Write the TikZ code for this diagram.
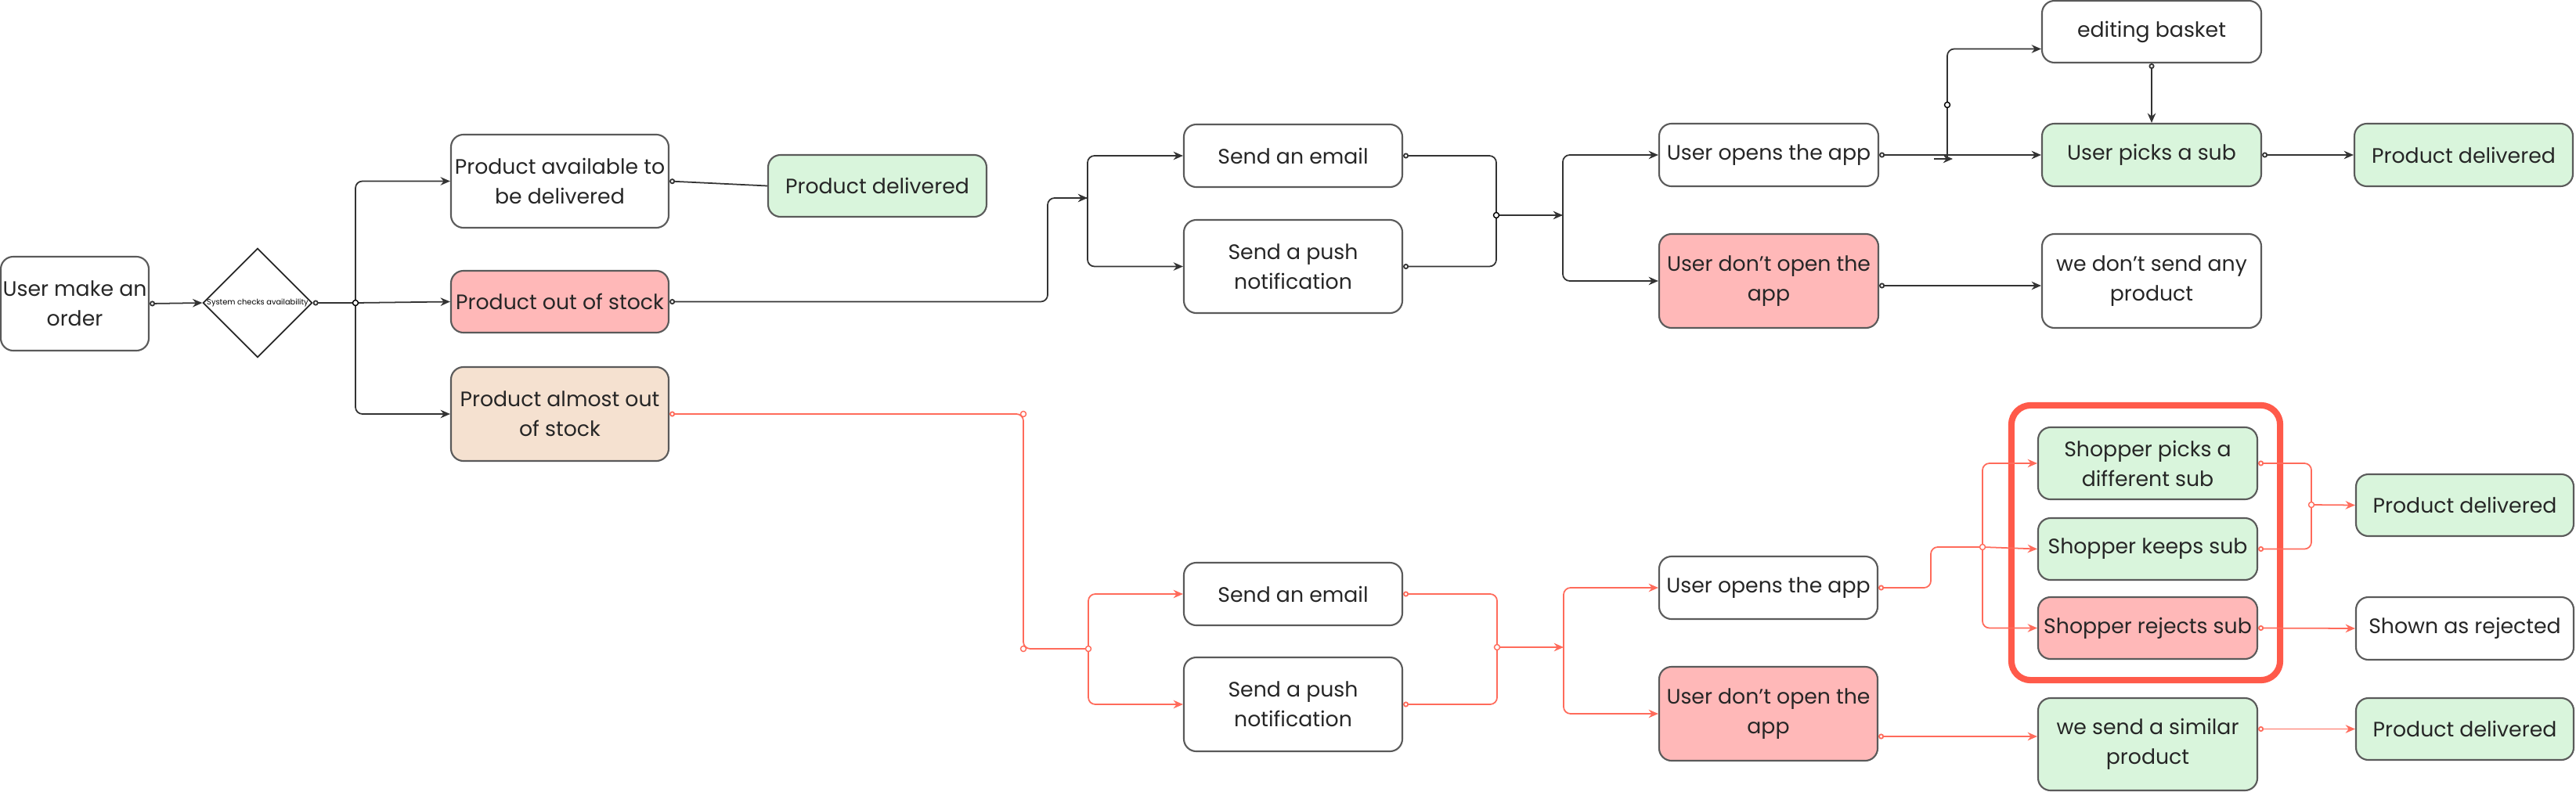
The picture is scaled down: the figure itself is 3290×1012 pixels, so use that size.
\documentclass[tikz,border=0pt]{standalone}
\usepackage{fontspec}
\setmainfont{Poppins}
\usetikzlibrary{shapes.geometric,arrows.meta}
\definecolor{bgreen}{HTML}{D9F5DC}
\definecolor{bred}{HTML}{FFB8B8}
\definecolor{bpeach}{HTML}{F5E1D0}
\definecolor{lred}{HTML}{FF6B5B}
\definecolor{fred}{HTML}{FF5A4A}
\definecolor{bord}{HTML}{5A5A5A}
\newcommand\mkbox[7]{\node[box,#6,minimum width={(#4-#2)*0.01cm},minimum height={(#5-#3)*0.01cm}] (#1) at ({(#2+#4)/2},{(#3+#5)/2}) {#7};}
\begin{document}
\begin{tikzpicture}[x=0.01cm,y=-0.01cm,
  box/.style={draw=bord,line width=0.6pt,rounded corners=4.5pt,align=center,inner sep=0pt,font=\fontsize{7.6}{10.8}\selectfont,text=black!85},
  white/.style={fill=white}, green/.style={fill=bgreen}, red/.style={fill=bred}, peach/.style={fill=bpeach},
  con/.style={line width=0.5pt,draw=black!80,rounded corners=2.5pt},
  rcon/.style={line width=0.5pt,draw=lred,rounded corners=2.5pt},
  arr/.style={-{Stealth[length=3.5pt,width=3pt]}},
  carr/.style={{Circle[open,length=2pt]}-{Stealth[length=3.5pt,width=3pt]}},
  cline/.style={{Circle[open,length=2pt]}-},
  dot/.style={circle,draw,fill=white,inner sep=0pt,minimum size=2pt,line width=0.4pt}]
\useasboundingbox (0,0) rectangle (3290,1012);
\fill[white] (0,0) rectangle (3290,1012);
\mkbox{order}{1}{328}{190}{448}{white}{User make an\\order}
\node[draw=black!85,line width=0.5pt,diamond,minimum width=1.22cm,minimum height=1.19cm,inner sep=0pt,font=\fontsize{2.8}{3}\selectfont] (dia) at (329,387) {System checks availability};
\mkbox{avail}{576}{172}{854}{291}{white}{Product available to\\be delivered}
\mkbox{deliv1}{981}{198}{1260}{277}{green}{Product delivered}
\mkbox{oos}{576}{346}{854}{425}{red}{Product out of stock}
\mkbox{almost}{576}{469}{854}{589}{peach}{Product almost out\\of stock}
\mkbox{email1}{1512}{159}{1791}{239}{white}{Send an email}
\mkbox{push1}{1512}{281}{1791}{400}{white}{Send a push\\notification}
\mkbox{opens1}{2119}{158}{2399}{238}{white}{User opens the app}
\mkbox{dont1}{2119}{299}{2399}{419}{red}{User don’t open the\\app}
\mkbox{editing}{2608}{1}{2888}{80}{white}{editing basket}
\mkbox{picks}{2608}{158}{2888}{238}{green}{User picks a sub}
\mkbox{deliv2}{3007}{158}{3286}{238}{green}{Product delivered}
\mkbox{nosend}{2608}{299}{2888}{419}{white}{we don't send any\\product}
\mkbox{email2}{1512}{719}{1791}{799}{white}{Send an email}
\mkbox{push2}{1512}{840}{1791}{960}{white}{Send a push\\notification}
\mkbox{opens2}{2119}{711}{2398}{791}{white}{User opens the app}
\mkbox{dont2}{2119}{852}{2398}{972}{red}{User don’t open the\\app}
\node[draw=fred,line width=2.3pt,rounded corners=7pt,minimum width=3.43cm,minimum height=3.51cm,inner sep=0pt] (frame) at (2740.5,693.5) {};
\mkbox{spicks}{2603}{546}{2883}{638}{green}{Shopper picks a\\different sub}
\mkbox{skeeps}{2603}{662}{2883}{741}{green}{Shopper keeps sub}
\mkbox{srejects}{2603}{763}{2883}{842}{red}{Shopper rejects sub}
\mkbox{deliv3}{3009}{606}{3287}{685}{green}{Product delivered}
\mkbox{rejected}{3009}{763}{3287}{843}{white}{Shown as rejected}
\mkbox{similar}{2603}{892}{2883}{1010}{green}{we send a similar\\product}
\mkbox{deliv4}{3009}{892}{3287}{971}{green}{Product delivered}
% coordinates
\coordinate (ja) at (454,387);
\coordinate (jb) at (1389,253);
\coordinate (jc) at (1911,275);
\coordinate (jd) at (1996,275);
\coordinate (je) at (2487,203);
\coordinate (jf) at (1307,529);
\coordinate (jg) at (1390,829);
\coordinate (jh) at (1912,827);
\coordinate (ji) at (1997,827);
\coordinate (jj) at (2532,699);
\coordinate (jk) at (2952,645);
% black connectors
\draw[con,carr] (order.east) -- (dia.west);
\draw[con,cline] (dia.east) -- (ja);
\draw[con,arr] (ja) |- (avail.west);
\draw[con,arr] (ja) -- (oos.west);
\draw[con,arr] (ja) |- (almost.west);
\node[dot] at (ja) {};
\draw[con,cline] (avail.east) -- (deliv1.west);
\draw[con,cline] (oos.east) -| (1338,253) -- (jb);
\draw[con,arr] (1370,253) -- (jb);
\draw[con,arr] (jb) |- (email1.west);
\draw[con,arr] (jb) |- (push1.west);
\draw[con,cline] (email1.east) -| (jc);
\draw[con,cline] (push1.east) -| (jc);
\draw[con,arr] (jc) -- (jd);
\node[dot] at (jc) {};
\draw[con,arr] (jd) |- (opens1.west);
\draw[con,arr] (jd) |- (dont1.west);
\draw[con,carr] (opens1.east) -- (picks.west);
\draw[con,arr] (je) |- ([yshift=-0.22cm]editing.west);
\draw[con,arr] (2470,203) -- (2494,203);
\node[dot] at (2487,134) {};
\draw[con,carr] (editing.south) -- (picks.north);
\draw[con,carr] (picks.east) -- (deliv2.west);
\draw[con,carr] (dont1.east |- 0,365) -- (nosend.west |- 0,365);
% red connectors
\draw[rcon,cline] (almost.east) -- (jf) -- (1307,829) -- (jg);
\node[dot,draw=lred] at (jf) {};
\node[dot,draw=lred] at (1307,829) {};
\draw[rcon,arr] (jg) |- (email2.west);
\draw[rcon,arr] (jg) |- (push2.west);
\node[dot,draw=lred] at (jg) {};
\draw[rcon,cline] (email2.east) -| (jh);
\draw[rcon,cline] (push2.east) -| (jh);
\draw[rcon,arr] (jh) -- (ji);
\node[dot,draw=lred] at (jh) {};
\draw[rcon,arr] (ji) |- (opens2.west);
\draw[rcon,arr] (ji) |- (dont2.west);
\draw[rcon,cline] (opens2.east) -| (2466,699) -- (jj);
\draw[rcon,arr] (jj) |- (spicks.west);
\draw[rcon,arr] (jj) -- (skeeps.west);
\draw[rcon,arr] (jj) |- (srejects.west);
\node[dot,draw=lred] at (jj) {};
\draw[rcon,cline] (spicks.east) -| (jk);
\draw[rcon,cline] (skeeps.east) -| (jk);
\draw[rcon,arr] (jk) -- (deliv3.west);
\node[dot,draw=lred] at (jk) {};
\draw[rcon,carr] (srejects.east) -- (rejected.west);
\draw[rcon,carr] (dont2.east |- 0,941) -- (similar.west |- 0,941);
\draw[rcon,carr] (similar.east |- deliv4.west) -- (deliv4.west);
\end{tikzpicture}
\end{document}
